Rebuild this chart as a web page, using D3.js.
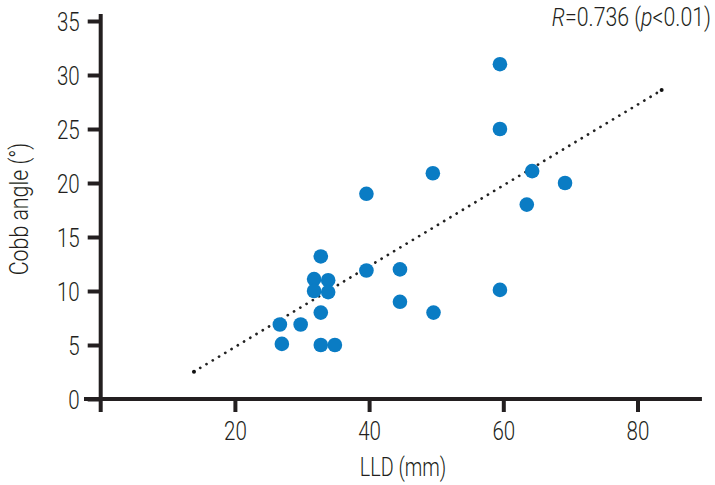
<!DOCTYPE html>
<html><head><meta charset="utf-8">
<script src="https://cdn.jsdelivr.net/npm/d3@7"></script>
<style>
body{margin:0;background:#fff;}
text{font-family:Roboto,"Liberation Sans",sans-serif;font-weight:300;fill:#231f20;}
</style></head><body>
<svg id="c" width="715" height="485"></svg>
<script>
const lld  = [59.5,59.5,49.5,39.6,64.3,69.2,63.5,39.6,44.6,44.6,49.6,59.5,32.8,31.8,33.9,31.8,33.9,32.8,26.7,29.8,27.0,32.8,34.9];
const cobb = [31.0,25.0,20.9,19.0,21.1,20.0,18.0,11.9,12.0,9.0,8.0,10.1,13.2,11.1,11.0,10.0,9.9,8.0,6.9,6.9,5.1,5.0,5.0];
const trendX = [13.9, 83.6];
const trendY = [2.53, 28.6];
const xTicks = [20,40,60,80];
const yTicks = [0,5,10,15,20,25,30,35];
const title = {r:"R", mid:"=0.736 (", p:"p", end:"<0.01)"};

const svg = d3.select("#c");
const x = d3.scaleLinear().domain([0,90]).range([100.7, 704.6]);
const y = d3.scaleLinear().domain([0,35]).range([399, 21]);
const ink = "#231f20";
const FS = 26, SX = 0.79;
function squeeze(sel, sx){
  sel.each(function(){
    const w = this.getComputedTextLength();
    d3.select(this).attr("textLength", w*(sx||SX)).attr("lengthAdjust","spacingAndGlyphs");
  });
}

// y axis
const gy = svg.append("g").attr("transform","translate(100.7,0)")
  .call(d3.axisLeft(y).tickValues(yTicks).tickSize(13).tickPadding(8));
gy.attr("font-family",null).attr("font-size",null);
gy.select(".domain").remove();
gy.selectAll(".tick line").attr("stroke",ink).attr("stroke-width",4);
gy.selectAll(".tick text").attr("font-size",FS).attr("fill",ink).attr("dy","0.36em").call(squeeze);
svg.append("line").attr("x1",x(0)).attr("x2",x(0)).attr("y1",y(35.65)).attr("y2",412)
  .attr("stroke",ink).attr("stroke-width",4);

// x axis
const gx = svg.append("g").attr("transform","translate(0,399)")
  .call(d3.axisBottom(x).tickValues(xTicks).tickSize(13).tickPadding(10));
gx.attr("font-family",null).attr("font-size",null);
gx.select(".domain").remove();
gx.selectAll(".tick line").attr("stroke",ink).attr("stroke-width",4);
gx.selectAll(".tick text").attr("font-size",FS).attr("fill",ink).attr("dy","0.71em").call(squeeze);
svg.append("line").attr("x1",84).attr("x2",x(89.6)).attr("y1",y(0)).attr("y2",y(0))
  .attr("stroke",ink).attr("stroke-width",4);

// trend line
svg.append("line")
  .attr("x1",x(trendX[0])).attr("y1",y(trendY[0]))
  .attr("x2",x(trendX[1])).attr("y2",y(trendY[1]))
  .attr("stroke","#222").attr("stroke-width",2.7)
  .attr("stroke-linecap","round").attr("stroke-dasharray","0.1 7.2");
svg.selectAll("circle.end").data([0,1]).enter().append("circle")
  .attr("cx",i=>x(trendX[i])).attr("cy",i=>y(trendY[i])).attr("r",2).attr("fill","#111");

// points
svg.selectAll("circle.pt").data(lld).enter().append("circle").attr("class","pt")
  .attr("cx",(d)=>x(d)).attr("cy",(d,i)=>y(cobb[i])).attr("r",7.3).attr("fill","#0a7cc4");

// labels
svg.append("text").attr("x",403).attr("y",476).attr("text-anchor","middle")
  .attr("font-size",FS).text("LLD (mm)").call(squeeze, 0.76);
svg.append("text").attr("transform","translate(28,209) rotate(-90)").attr("text-anchor","middle")
  .attr("font-size",FS).text("Cobb angle (°)").call(squeeze, 0.82);
const tg = svg.append("g").attr("transform","translate(711,26) scale(0.82,1)");
const t = tg.append("text").attr("x",0).attr("y",0).attr("text-anchor","end").attr("font-size",FS);
t.append("tspan").attr("font-style","italic").text(title.r);
t.append("tspan").text(title.mid);
t.append("tspan").attr("font-style","italic").text(title.p);
t.append("tspan").text(title.end);
</script>
</body></html>
